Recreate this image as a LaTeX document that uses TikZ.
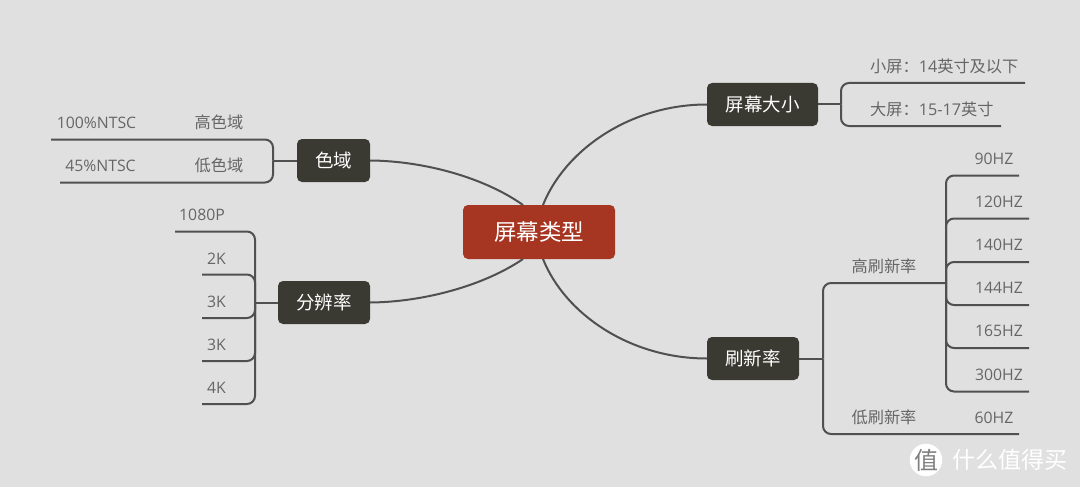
\documentclass[tikz,border=0pt]{standalone}
\usepackage{fontspec}
\setmainfont{Noto Sans CJK SC}
\newfontfamily\latin{Open Sans}
\definecolor{paper}{HTML}{E0E0E0}
\definecolor{topicdark}{HTML}{3A3A32}
\definecolor{topicred}{HTML}{A63522}
\definecolor{wire}{HTML}{505052}
\definecolor{leaftext}{HTML}{666666}
\tikzset{
  topic/.style={draw=none, fill=topicdark, text=white, rounded corners=5pt, minimum height=43pt, inner sep=0pt, font=\fontsize{18.5}{20}\selectfont},
  core/.style={topic, fill=topicred, minimum width=152pt, minimum height=54pt, font=\fontsize{22.5}{24}\selectfont},
  leaf/.style={text=leaftext, inner sep=0pt, font=\fontsize{16.2}{18}\selectfont},
  num/.style={text=leaftext, inner sep=0pt, font=\fontsize{15.8}{18}\latin},
  branch/.style={draw=wire, line width=2pt, rounded corners=8pt},
  limb/.style={draw=wire, line width=2pt},
}
\begin{document}
\begin{tikzpicture}[x=1pt,y=-1pt]

\fill[paper] (0,0) rectangle (1080,487);
\useasboundingbox (0,0) rectangle (1080,487);

% Limbs from the core
\coordinate (coreNW) at (523,205);
\coordinate (coreNE) at (543,205);
\coordinate (coreSW) at (523,259);
\coordinate (coreSE) at (543,259);

% Topics
\node[core] (screenType) at (539,232) {屏幕类型};
\node[topic, minimum width=73pt] (gamut) at (333.5,160.5) {色域};
\node[topic, minimum width=92pt] (resolution) at (324,302.5) {分辨率};
\node[topic, minimum width=111pt] (screenSize) at (762.5,104.5) {屏幕大小};
\node[topic, minimum width=92pt] (refresh) at (753,358.5) {刷新率};

\draw[limb] (coreNW) .. controls (485,178) and (425,161) .. (gamut.east);
\draw[limb] (coreSW) .. controls (485,285) and (425,302) .. (resolution.east);
\draw[limb] (coreNE) .. controls (565,150) and (630,104.5) .. (screenSize.west);
\draw[limb] (coreSE) .. controls (565,314) and (630,358.5) .. (refresh.west);

% Gamut
\coordinate (gamutJoin) at (273,160.5);
\coordinate (gamutHi) at (51,139.5);
\coordinate (gamutLo) at (60,182.5);
\draw[branch] (gamut.west) -- (gamutJoin);
\draw[branch] (gamutHi) -| (gamutJoin);
\draw[branch] (gamutLo) -| (gamutJoin);
\node[num] (ntscHi) at (96.5,122.5) {100\%NTSC};
\node[leaf] (gamutHiText) at (219,122.5) {高色域};
\node[num] (ntscLo) at (100.5,165.5) {45\%NTSC};
\node[leaf] (gamutLoText) at (219,165.5) {低色域};

% Resolution
\coordinate (resJoin) at (255,302.5);
\coordinate (resA) at (175,231.5);
\coordinate (resB) at (202,274.5);
\coordinate (resC) at (202,318);
\coordinate (resD) at (202,361);
\coordinate (resE) at (202,404);
\draw[branch] (resolution.west) -- (resJoin);
\draw[branch] (resA) -| (resJoin);
\draw[branch] (resB) -| (resJoin);
\draw[branch] (resC) -| (resJoin);
\draw[branch] (resD) -| (resJoin);
\draw[branch] (resE) -| (resJoin);
\node[num] (resAText) at (202,215) {1080P};
\node[num] (resBText) at (216.5,258.5) {2K};
\node[num] (resCText) at (216.5,301.5) {3K};
\node[num] (resDText) at (216.5,344.5) {3K};
\node[num] (resEText) at (216.5,387.5) {4K};

% Screen size
\coordinate (sizeJoin) at (841,104.5);
\coordinate (sizeSmall) at (1025,83);
\coordinate (sizeBig) at (1001,126);
\draw[branch] (screenSize.east) -- (sizeJoin);
\draw[branch] (sizeSmall) -| (sizeJoin);
\draw[branch] (sizeBig) -| (sizeJoin);
\node[leaf, anchor=west] (sizeSmallText) at (870,66.5) {小屏：{\latin 14}英寸及以下};
\node[leaf, anchor=west] (sizeBigText) at (870,109.5) {大屏：{\latin 15-17}英寸};

% Refresh rate
\coordinate (rateJoin) at (823,358.5);
\coordinate (rateHi) at (946,283);
\coordinate (rateLo) at (1019,434);
\draw[branch] (refresh.east) -- (rateJoin);
\draw[branch] (rateHi) -| (rateJoin);
\draw[branch] (rateLo) -| (rateJoin);
\node[leaf] (rateHiText) at (884,266.5) {高刷新率};
\node[leaf] (rateLoText) at (884,417.5) {低刷新率};
\node[num] (hzSixty) at (994,417.5) {60HZ};

% High refresh rates
\coordinate (hzA) at (1019,175.5);
\coordinate (hzB) at (1029,218.5);
\coordinate (hzC) at (1029,262);
\coordinate (hzD) at (1029,305);
\coordinate (hzE) at (1029,348);
\coordinate (hzF) at (1029,391.5);
\draw[branch] (hzA) -| (rateHi);
\draw[branch] (hzB) -| (rateHi);
\draw[branch] (hzC) -| (rateHi);
\draw[branch] (hzD) -| (rateHi);
\draw[branch] (hzE) -| (rateHi);
\draw[branch] (hzF) -| (rateHi);
\node[num] (hzAText) at (994,158.5) {90HZ};
\node[num] (hzBText) at (999,201.5) {120HZ};
\node[num] (hzCText) at (999,244.5) {140HZ};
\node[num] (hzDText) at (999,287.5) {144HZ};
\node[num] (hzEText) at (999,331) {165HZ};
\node[num] (hzFText) at (999,374.5) {300HZ};

% Watermark
\node[circle, fill=white, minimum size=32pt, inner sep=0pt, text=gray, font=\fontsize{24}{26}\selectfont] (markIcon) at (926,460) {值};
\node[text=white, inner sep=0pt, anchor=west, font=\fontsize{23}{25}\selectfont] (markText) at (952,460) {什么值得买};

\end{tikzpicture}
\end{document}
